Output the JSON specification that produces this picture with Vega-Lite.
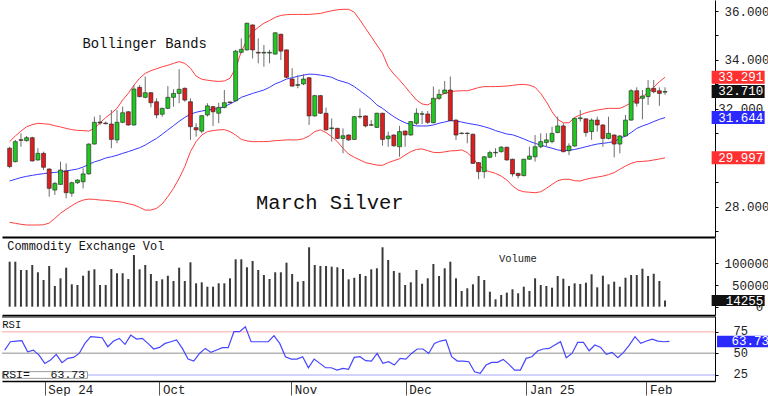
{
"$schema": "https://vega.github.io/schema/vega-lite/v6.json",
"usermeta": {"embedOptions": {"actions": false}},
"padding": 0,
"background": "white",
"spacing": 1,
"bounds": "flush",
"config": {"view": {"stroke": null}, "axis": {"grid": false, "labelFont": "Liberation Mono", "labelFontSize": 12.5, "labelColor": "#222", "labelOverlap": false, "zindex": 0}, "text": {"font": "Liberation Mono"}},
"datasets": {
"d": [
{"i":0,"o":30.39,"h":30.45,"l":29.57,"c":29.64,"u":30.66,"m":29.05,"lb":27.36,"v":103700,"r":53.8},
{"i":1,"o":29.84,"h":30.73,"l":29.81,"c":30.66,"u":30.89,"m":29.12,"lb":27.32,"v":103700,"r":63.4},
{"i":2,"o":30.74,"h":31.00,"l":30.45,"c":30.71,"u":31.09,"m":29.19,"lb":27.28,"v":84600,"r":64.2},
{"i":3,"o":30.70,"h":30.89,"l":30.66,"c":30.82,"u":31.27,"m":29.24,"lb":27.25,"v":84600,"r":64.6},
{"i":4,"o":30.82,"h":30.86,"l":29.84,"c":29.87,"u":31.35,"m":29.28,"lb":27.25,"v":96100,"r":51.9},
{"i":5,"o":29.91,"h":30.39,"l":29.88,"c":30.18,"u":31.41,"m":29.32,"lb":27.25,"v":79300,"r":53.8},
{"i":6,"o":30.18,"h":30.25,"l":29.50,"c":29.61,"u":31.39,"m":29.35,"lb":27.26,"v":61500,"r":48.0},
{"i":7,"o":29.54,"h":29.57,"l":28.41,"c":28.75,"u":31.37,"m":29.38,"lb":27.33,"v":93800,"r":38.4},
{"i":8,"o":28.68,"h":29.02,"l":28.48,"c":28.95,"u":31.31,"m":29.40,"lb":27.52,"v":47700,"r":42.3},
{"i":9,"o":28.91,"h":29.84,"l":28.89,"c":29.50,"u":31.26,"m":29.43,"lb":27.73,"v":65400,"r":48.8},
{"i":10,"o":29.46,"h":29.77,"l":28.34,"c":28.57,"u":31.20,"m":29.46,"lb":27.89,"v":89900,"r":39.2},
{"i":11,"o":28.55,"h":29.02,"l":28.41,"c":28.98,"u":31.15,"m":29.50,"lb":28.04,"v":51600,"r":44.2},
{"i":12,"o":28.98,"h":29.12,"l":28.93,"c":29.09,"u":31.12,"m":29.54,"lb":28.18,"v":50000,"r":45.3},
{"i":13,"o":29.02,"h":29.57,"l":28.75,"c":29.34,"u":31.11,"m":29.62,"lb":28.27,"v":71400,"r":49.9},
{"i":14,"o":29.34,"h":30.59,"l":29.31,"c":30.56,"u":31.09,"m":29.73,"lb":28.31,"v":82900,"r":61.5},
{"i":15,"o":30.56,"h":31.68,"l":30.54,"c":31.45,"u":31.20,"m":29.83,"lb":28.30,"v":86200,"r":69.2},
{"i":16,"o":31.46,"h":31.75,"l":31.34,"c":31.42,"u":31.43,"m":29.90,"lb":28.27,"v":50000,"r":68.8},
{"i":17,"o":31.42,"h":31.48,"l":31.37,"c":31.39,"u":31.64,"m":29.99,"lb":28.26,"v":50000,"r":68.0},
{"i":18,"o":31.38,"h":31.95,"l":30.39,"c":30.75,"u":31.82,"m":30.04,"lb":28.23,"v":86900,"r":57.7},
{"i":19,"o":30.73,"h":31.95,"l":30.59,"c":31.45,"u":32.02,"m":30.10,"lb":28.21,"v":77000,"r":64.2},
{"i":20,"o":31.45,"h":32.09,"l":31.41,"c":31.84,"u":32.36,"m":30.18,"lb":28.18,"v":77000,"r":67.3},
{"i":21,"o":31.88,"h":31.91,"l":31.31,"c":31.34,"u":32.63,"m":30.25,"lb":28.12,"v":63800,"r":60.4},
{"i":22,"o":31.34,"h":32.97,"l":31.31,"c":32.81,"u":32.97,"m":30.33,"lb":28.07,"v":119100,"r":71.1},
{"i":23,"o":32.88,"h":32.97,"l":32.47,"c":32.50,"u":33.25,"m":30.41,"lb":27.97,"v":86200,"r":66.5},
{"i":24,"o":32.47,"h":33.32,"l":32.43,"c":32.66,"u":33.45,"m":30.52,"lb":27.86,"v":96100,"r":67.3},
{"i":25,"o":32.66,"h":32.69,"l":32.06,"c":32.25,"u":33.56,"m":30.66,"lb":27.86,"v":75300,"r":61.5},
{"i":26,"o":32.29,"h":32.43,"l":31.61,"c":31.75,"u":33.64,"m":30.79,"lb":27.93,"v":59200,"r":55.0},
{"i":27,"o":31.78,"h":32.05,"l":31.68,"c":32.02,"u":33.72,"m":30.96,"lb":28.11,"v":63100,"r":56.9},
{"i":28,"o":32.02,"h":32.93,"l":31.99,"c":32.47,"u":33.78,"m":31.14,"lb":28.41,"v":71400,"r":61.5},
{"i":29,"o":32.47,"h":32.80,"l":32.09,"c":32.63,"u":33.86,"m":31.31,"lb":28.75,"v":59200,"r":63.4},
{"i":30,"o":32.63,"h":33.62,"l":32.23,"c":32.80,"u":33.93,"m":31.49,"lb":29.16,"v":89900,"r":65.4},
{"i":31,"o":32.84,"h":32.87,"l":32.29,"c":32.36,"u":33.86,"m":31.65,"lb":29.64,"v":59200,"r":55.7},
{"i":32,"o":32.29,"h":32.43,"l":30.73,"c":31.27,"u":33.66,"m":31.78,"lb":30.25,"v":102300,"r":43.4},
{"i":33,"o":31.23,"h":31.41,"l":30.86,"c":31.14,"u":33.34,"m":31.86,"lb":30.66,"v":53900,"r":41.1},
{"i":34,"o":31.09,"h":31.75,"l":31.00,"c":31.72,"u":33.21,"m":31.91,"lb":30.93,"v":56200,"r":49.9},
{"i":35,"o":31.75,"h":32.23,"l":31.68,"c":32.12,"u":33.17,"m":31.95,"lb":31.07,"v":46100,"r":55.7},
{"i":36,"o":32.09,"h":32.12,"l":31.30,"c":31.88,"u":33.14,"m":31.98,"lb":31.11,"v":46100,"r":51.1},
{"i":37,"o":31.82,"h":32.25,"l":31.41,"c":32.06,"u":33.12,"m":32.02,"lb":31.14,"v":53900,"r":53.8},
{"i":38,"o":32.06,"h":32.77,"l":32.02,"c":32.25,"u":33.14,"m":32.09,"lb":31.15,"v":53900,"r":56.5},
{"i":39,"o":32.28,"h":32.31,"l":32.23,"c":32.25,"u":33.25,"m":32.20,"lb":31.07,"v":65400,"r":56.5},
{"i":40,"o":32.33,"h":34.41,"l":32.29,"c":34.36,"u":33.66,"m":32.32,"lb":30.93,"v":109200,"r":75.0},
{"i":41,"o":34.31,"h":34.88,"l":34.27,"c":34.43,"u":34.34,"m":32.47,"lb":30.75,"v":109200,"r":75.0},
{"i":42,"o":34.41,"h":35.52,"l":34.38,"c":35.50,"u":34.81,"m":32.55,"lb":30.69,"v":90800,"r":80.8},
{"i":43,"o":35.43,"h":35.45,"l":34.06,"c":34.41,"u":35.16,"m":32.63,"lb":30.66,"v":105300,"r":63.4},
{"i":44,"o":34.31,"h":34.88,"l":33.86,"c":34.28,"u":35.33,"m":32.70,"lb":30.66,"v":84600,"r":63.4},
{"i":45,"o":34.28,"h":34.61,"l":33.72,"c":34.31,"u":35.50,"m":32.77,"lb":30.66,"v":73000,"r":63.4},
{"i":46,"o":34.28,"h":34.41,"l":33.86,"c":34.31,"u":35.61,"m":32.88,"lb":30.67,"v":63800,"r":63.4},
{"i":47,"o":34.24,"h":35.13,"l":34.21,"c":35.11,"u":35.74,"m":33.02,"lb":30.70,"v":79300,"r":70.4},
{"i":48,"o":35.05,"h":35.07,"l":34.00,"c":34.36,"u":35.82,"m":33.11,"lb":30.71,"v":79300,"r":61.5},
{"i":49,"o":34.41,"h":34.43,"l":33.26,"c":33.29,"u":35.85,"m":33.22,"lb":30.73,"v":101400,"r":46.1},
{"i":50,"o":33.22,"h":33.66,"l":32.91,"c":32.93,"u":35.86,"m":33.27,"lb":30.73,"v":75300,"r":43.4},
{"i":51,"o":32.96,"h":33.38,"l":32.84,"c":32.99,"u":35.86,"m":33.33,"lb":30.73,"v":57600,"r":43.4},
{"i":52,"o":33.02,"h":33.42,"l":32.97,"c":33.22,"u":35.86,"m":33.38,"lb":30.78,"v":59200,"r":46.1},
{"i":53,"o":33.27,"h":33.30,"l":31.34,"c":31.71,"u":35.86,"m":33.42,"lb":30.89,"v":136900,"r":33.4},
{"i":54,"o":31.71,"h":32.57,"l":31.68,"c":32.54,"u":35.88,"m":33.41,"lb":31.07,"v":96100,"r":43.4},
{"i":55,"o":32.54,"h":32.57,"l":31.79,"c":31.82,"u":35.90,"m":33.38,"lb":31.14,"v":93800,"r":38.4},
{"i":56,"o":31.82,"h":32.05,"l":31.11,"c":31.14,"u":35.96,"m":33.34,"lb":31.03,"v":93800,"r":33.4},
{"i":57,"o":31.19,"h":31.61,"l":30.66,"c":31.22,"u":36.01,"m":33.29,"lb":30.86,"v":92200,"r":33.4},
{"i":58,"o":31.20,"h":31.23,"l":30.77,"c":30.79,"u":36.05,"m":33.18,"lb":30.66,"v":90800,"r":30.7},
{"i":59,"o":30.79,"h":31.20,"l":30.18,"c":30.90,"u":36.07,"m":33.11,"lb":30.39,"v":86900,"r":32.6},
{"i":60,"o":30.93,"h":30.96,"l":30.69,"c":30.73,"u":36.07,"m":33.04,"lb":30.15,"v":63100,"r":31.5},
{"i":61,"o":30.75,"h":31.71,"l":30.73,"c":31.68,"u":35.95,"m":32.91,"lb":30.02,"v":66800,"r":45.3},
{"i":62,"o":31.67,"h":32.02,"l":31.60,"c":31.69,"u":35.63,"m":32.74,"lb":29.91,"v":75300,"r":46.1},
{"i":63,"o":31.71,"h":31.73,"l":31.24,"c":31.30,"u":35.29,"m":32.57,"lb":29.80,"v":70700,"r":41.5},
{"i":64,"o":31.35,"h":31.54,"l":31.30,"c":31.33,"u":34.95,"m":32.39,"lb":29.75,"v":86200,"r":41.1},
{"i":65,"o":31.24,"h":31.84,"l":31.22,"c":31.82,"u":34.61,"m":32.16,"lb":29.70,"v":88500,"r":49.9},
{"i":66,"o":31.82,"h":31.84,"l":30.49,"c":30.75,"u":34.27,"m":32.02,"lb":29.69,"v":136900,"r":38.4},
{"i":67,"o":30.78,"h":31.07,"l":30.45,"c":30.89,"u":33.72,"m":31.84,"lb":29.80,"v":107600,"r":40.3},
{"i":68,"o":30.93,"h":30.96,"l":30.45,"c":30.49,"u":33.42,"m":31.68,"lb":29.88,"v":82300,"r":36.5},
{"i":69,"o":30.45,"h":31.30,"l":30.04,"c":31.07,"u":33.18,"m":31.54,"lb":29.96,"v":78300,"r":44.2},
{"i":70,"o":31.09,"h":31.12,"l":30.45,"c":30.93,"u":32.91,"m":31.43,"lb":30.11,"v":50000,"r":43.4},
{"i":71,"o":30.93,"h":31.50,"l":30.90,"c":31.48,"u":32.63,"m":31.35,"lb":30.25,"v":56200,"r":49.9},
{"i":72,"o":31.41,"h":32.02,"l":31.34,"c":31.82,"u":32.36,"m":31.30,"lb":30.34,"v":84600,"r":55.0},
{"i":73,"o":31.78,"h":31.91,"l":31.38,"c":31.80,"u":32.20,"m":31.30,"lb":30.36,"v":53000,"r":55.0},
{"i":74,"o":31.79,"h":31.91,"l":31.38,"c":31.45,"u":32.16,"m":31.30,"lb":30.29,"v":65400,"r":49.9},
{"i":75,"o":31.43,"h":32.91,"l":31.41,"c":32.43,"u":32.29,"m":31.34,"lb":30.22,"v":98400,"r":61.5},
{"i":76,"o":32.43,"h":32.80,"l":32.36,"c":32.59,"u":32.52,"m":31.41,"lb":30.21,"v":70700,"r":64.2},
{"i":77,"o":32.63,"h":33.14,"l":32.61,"c":32.77,"u":32.63,"m":31.46,"lb":30.24,"v":88500,"r":65.4},
{"i":78,"o":32.77,"h":33.32,"l":31.49,"c":31.52,"u":32.70,"m":31.52,"lb":30.28,"v":103700,"r":46.1},
{"i":79,"o":31.54,"h":31.57,"l":30.73,"c":30.93,"u":32.73,"m":31.50,"lb":30.29,"v":65400,"r":41.1},
{"i":80,"o":30.99,"h":31.04,"l":30.96,"c":31.01,"u":32.74,"m":31.46,"lb":30.32,"v":36200,"r":41.1},
{"i":81,"o":31.01,"h":31.03,"l":30.59,"c":30.99,"u":32.74,"m":31.41,"lb":30.21,"v":42400,"r":40.3},
{"i":82,"o":30.96,"h":30.99,"l":29.75,"c":29.77,"u":32.80,"m":31.37,"lb":29.98,"v":51600,"r":28.8},
{"i":83,"o":29.80,"h":29.83,"l":29.12,"c":29.43,"u":32.87,"m":31.33,"lb":29.70,"v":70700,"r":26.9},
{"i":84,"o":29.43,"h":30.07,"l":29.16,"c":30.04,"u":32.91,"m":31.27,"lb":29.50,"v":61500,"r":36.5},
{"i":85,"o":30.02,"h":30.29,"l":29.98,"c":30.21,"u":32.91,"m":31.20,"lb":29.43,"v":34600,"r":39.6},
{"i":86,"o":30.20,"h":30.39,"l":30.04,"c":30.22,"u":32.91,"m":31.11,"lb":29.36,"v":17000,"r":39.6},
{"i":87,"o":30.25,"h":30.48,"l":30.21,"c":30.43,"u":32.92,"m":31.04,"lb":29.25,"v":27000,"r":43.0},
{"i":88,"o":30.43,"h":30.45,"l":29.88,"c":29.91,"u":32.93,"m":30.97,"lb":29.09,"v":32300,"r":37.3},
{"i":89,"o":29.94,"h":29.96,"l":29.23,"c":29.34,"u":32.96,"m":30.94,"lb":28.85,"v":40100,"r":30.7},
{"i":90,"o":29.36,"h":29.39,"l":29.16,"c":29.27,"u":32.99,"m":30.86,"lb":28.68,"v":30900,"r":30.7},
{"i":91,"o":29.27,"h":29.96,"l":29.24,"c":29.94,"u":33.00,"m":30.77,"lb":28.61,"v":46100,"r":44.2},
{"i":92,"o":29.94,"h":30.45,"l":29.91,"c":30.07,"u":32.97,"m":30.67,"lb":28.59,"v":36200,"r":46.1},
{"i":93,"o":30.04,"h":30.93,"l":29.84,"c":30.45,"u":32.88,"m":30.59,"lb":28.57,"v":65400,"r":52.7},
{"i":94,"o":30.45,"h":31.00,"l":30.39,"c":30.66,"u":32.63,"m":30.52,"lb":28.61,"v":50000,"r":55.0},
{"i":95,"o":30.62,"h":31.00,"l":30.45,"c":30.73,"u":32.29,"m":30.45,"lb":28.75,"v":47700,"r":55.7},
{"i":96,"o":30.66,"h":31.27,"l":30.59,"c":31.00,"u":31.88,"m":30.39,"lb":28.91,"v":43800,"r":59.6},
{"i":97,"o":31.03,"h":31.68,"l":31.00,"c":31.30,"u":31.57,"m":30.32,"lb":29.06,"v":70700,"r":63.4},
{"i":98,"o":31.30,"h":31.41,"l":30.22,"c":30.25,"u":31.43,"m":30.29,"lb":29.12,"v":64500,"r":44.9},
{"i":99,"o":30.29,"h":30.59,"l":30.11,"c":30.48,"u":31.43,"m":30.30,"lb":29.12,"v":47700,"r":49.9},
{"i":100,"o":30.48,"h":31.64,"l":30.45,"c":31.61,"u":31.65,"m":30.34,"lb":29.06,"v":53900,"r":62.7},
{"i":101,"o":31.60,"h":31.95,"l":31.48,"c":31.63,"u":31.75,"m":30.39,"lb":29.05,"v":52300,"r":62.7},
{"i":102,"o":31.59,"h":31.61,"l":30.86,"c":31.03,"u":31.84,"m":30.45,"lb":29.12,"v":55300,"r":53.0},
{"i":103,"o":31.07,"h":31.61,"l":30.73,"c":31.54,"u":31.90,"m":30.51,"lb":29.17,"v":74600,"r":59.6},
{"i":104,"o":31.54,"h":31.68,"l":31.07,"c":31.34,"u":31.95,"m":30.56,"lb":29.21,"v":44700,"r":56.9},
{"i":105,"o":31.34,"h":31.37,"l":30.45,"c":30.79,"u":31.99,"m":30.59,"lb":29.25,"v":71400,"r":48.8},
{"i":106,"o":30.79,"h":31.68,"l":30.75,"c":31.00,"u":32.02,"m":30.62,"lb":29.31,"v":51600,"r":51.1},
{"i":107,"o":30.93,"h":30.96,"l":30.02,"c":30.56,"u":32.02,"m":30.66,"lb":29.39,"v":57600,"r":44.9},
{"i":108,"o":30.56,"h":30.93,"l":30.18,"c":30.89,"u":32.02,"m":30.79,"lb":29.53,"v":46100,"r":51.1},
{"i":109,"o":30.89,"h":31.75,"l":30.86,"c":31.54,"u":32.12,"m":30.89,"lb":29.66,"v":66800,"r":59.6},
{"i":110,"o":31.54,"h":32.80,"l":31.52,"c":32.74,"u":32.25,"m":31.03,"lb":29.77,"v":73000,"r":69.2},
{"i":111,"o":32.74,"h":32.88,"l":32.09,"c":32.23,"u":32.36,"m":31.20,"lb":29.84,"v":73000,"r":61.5},
{"i":112,"o":32.43,"h":32.77,"l":31.57,"c":32.52,"u":32.50,"m":31.30,"lb":29.85,"v":87600,"r":64.2},
{"i":113,"o":32.50,"h":33.18,"l":32.16,"c":32.84,"u":32.66,"m":31.38,"lb":29.87,"v":70700,"r":66.5},
{"i":114,"o":32.84,"h":33.18,"l":32.63,"c":32.70,"u":32.88,"m":31.48,"lb":29.91,"v":76000,"r":64.2},
{"i":115,"o":32.74,"h":32.88,"l":32.12,"c":32.63,"u":33.11,"m":31.57,"lb":29.95,"v":59200,"r":63.4},
{"i":116,"o":32.68,"h":32.88,"l":32.57,"c":32.71,"u":33.291,"m":31.644,"lb":29.997,"v":14255,"r":63.73}
],
"pbox": [
{"v":33.291,"t":"33.291","k":"upper"},
{"v":32.710,"t":"32.710","k":"last"},
{"v":31.644,"t":"31.644","k":"mid"},
{"v":29.997,"t":"29.997","k":"lower"}
],
"one": [{}]
},
"vconcat": [
{
"width": 713, "height": 237,
"data": {"name": "d"},
"layer": [
{"mark": {"type": "line", "color": "#ff4040", "strokeWidth": 1},
 "encoding": {
  "x": {"field": "i", "type": "quantitative", "scale": {"domain": [-0.47, 123.96], "nice": false, "zero": false},
        "axis": {"orient": "bottom", "labels": false, "ticks": false, "domainColor": "#000", "domainWidth": 2, "title": null}},
  "y": {"field": "u", "type": "quantitative", "scale": {"domain": [26.76, 36.45], "nice": false, "zero": false},
        "axis": {"orient": "right", "values": [27,28,29,30,31,32,33,34,35,36], "tickCount": 50, "labelExpr": "(datum.value == 28 || datum.value == 34 || datum.value == 36) ? format(datum.value, '.3f') : ''", "labelOverlap": false, "tickSize": 3, "tickColor": "#000", "domainColor": "#000", "labelAlign": "right", "labelPadding": 51, "title": null, "zindex": 0}}
 }},
{"mark": {"type": "line", "color": "#ff4040", "strokeWidth": 1},
 "encoding": {
  "x": {"field": "i", "type": "quantitative", "scale": {"domain": [-0.47, 123.96], "nice": false, "zero": false}},
  "y": {"field": "lb", "type": "quantitative", "scale": {"domain": [26.76, 36.45], "nice": false, "zero": false}}
 }},
{"mark": {"type": "line", "color": "#3838ff", "strokeWidth": 1},
 "encoding": {
  "x": {"field": "i", "type": "quantitative", "scale": {"domain": [-0.47, 123.96], "nice": false, "zero": false}},
  "y": {"field": "m", "type": "quantitative", "scale": {"domain": [26.76, 36.45], "nice": false, "zero": false}}
 }},
{"mark": {"type": "rule", "color": "#6e6e6e", "strokeWidth": 1},
 "encoding": {
  "x": {"field": "i", "type": "quantitative", "scale": {"domain": [-0.47, 123.96], "nice": false, "zero": false}},
  "y": {"field": "l", "type": "quantitative", "scale": {"domain": [26.76, 36.45], "nice": false, "zero": false}},
  "y2": {"field": "h"}
 }},
{"mark": {"type": "bar", "width": 4, "stroke": "#222", "strokeWidth": 0.6},
 "encoding": {
  "x": {"field": "i", "type": "quantitative", "scale": {"domain": [-0.47, 123.96], "nice": false, "zero": false}},
  "y": {"field": "o", "type": "quantitative", "scale": {"domain": [26.76, 36.45], "nice": false, "zero": false}},
  "y2": {"field": "c"},
  "color": {"condition": {"test": "datum.c >= datum.o", "value": "#22c822"}, "value": "#dc1e1e"}
 }},
{"data": {"name": "one"},
 "mark": {"type": "text", "text": "Bollinger Bands", "align": "left", "baseline": "alphabetic", "fontSize": 13.8, "color": "#111"},
 "encoding": {
  "x": {"datum": 12.9, "type": "quantitative", "scale": {"domain": [-0.47, 123.96], "nice": false, "zero": false}},
  "y": {"datum": 34.49, "type": "quantitative", "scale": {"domain": [26.76, 36.45], "nice": false, "zero": false}}
 }},
{"data": {"name": "one"},
 "mark": {"type": "text", "text": "March Silver", "align": "left", "baseline": "alphabetic", "fontSize": 20.5, "color": "#111"},
 "encoding": {
  "x": {"datum": 43.6, "type": "quantitative", "scale": {"domain": [-0.47, 123.96], "nice": false, "zero": false}},
  "y": {"datum": 27.905, "type": "quantitative", "scale": {"domain": [26.76, 36.45], "nice": false, "zero": false}}
 }},
{"data": {"name": "one"},
 "mark": {"type": "text", "text": "32.000", "align": "right", "baseline": "middle", "fontSize": 12.5, "color": "#222"},
 "encoding": {
  "x": {"datum": 133.4, "type": "quantitative", "scale": {"domain": [-0.47, 123.96], "nice": false, "zero": false}},
  "y": {"datum": 32, "type": "quantitative", "scale": {"domain": [26.76, 36.45], "nice": false, "zero": false}}
 }},
{"data": {"name": "pbox"},
 "mark": {"type": "point", "shape": "M-1,-0.245L1,-0.245L1,0.245L-1,0.245Z", "filled": true, "size": 2809, "opacity": 1, "strokeWidth": 0},
 "encoding": {
  "x": {"datum": 128.94, "type": "quantitative", "scale": {"domain": [-0.47, 123.96], "nice": false, "zero": false}},
  "y": {"field": "v", "type": "quantitative", "scale": {"domain": [26.76, 36.45], "nice": false, "zero": false}},
  "color": {"field": "k", "type": "nominal", "scale": {"domain": ["upper","last","mid","lower"], "range": ["#ff3030","#111111","#2a2aff","#ff3030"]}, "legend": null}
 }},
{"data": {"name": "pbox"},
 "mark": {"type": "text", "align": "right", "baseline": "middle", "fontSize": 12.5, "color": "#ffffff"},
 "encoding": {
  "x": {"datum": 133.4, "type": "quantitative", "scale": {"domain": [-0.47, 123.96], "nice": false, "zero": false}},
  "y": {"field": "v", "type": "quantitative", "scale": {"domain": [26.76, 36.45], "nice": false, "zero": false}},
  "text": {"field": "t"}
 }}
]
},
{
"width": 713, "height": 77,
"data": {"name": "d"},
"layer": [
{"mark": {"type": "bar", "width": 2, "color": "#3a3a3a"},
 "encoding": {
  "x": {"field": "i", "type": "quantitative", "scale": {"domain": [-0.47, 123.96], "nice": false, "zero": false},
        "axis": {"orient": "bottom", "labels": false, "ticks": false, "domainColor": "#000", "domainWidth": 1.5, "title": null}},
  "y": {"field": "v", "type": "quantitative", "scale": {"domain": [-19100, 158300], "nice": false, "zero": false},
        "axis": {"orient": "right", "values": [0, 50000, 100000], "tickCount": 50, "labelExpr": "datum.value == 0 ? '' : format(datum.value, 'd')", "labelOverlap": false, "tickSize": 3, "tickColor": "#000", "domainColor": "#000", "labelAlign": "right", "labelPadding": 51, "title": null, "zindex": 0}}
 }},
{"data": {"name": "one"},
 "mark": {"type": "text", "text": "Commodity Exchange Vol", "align": "left", "baseline": "alphabetic", "fontSize": 11.9, "color": "#111"},
 "encoding": {
  "x": {"datum": -0.42, "type": "quantitative", "scale": {"domain": [-0.47, 123.96], "nice": false, "zero": false}},
  "y": {"datum": 130650, "type": "quantitative", "scale": {"domain": [-19100, 158300], "nice": false, "zero": false}}
 }},
{"data": {"name": "one"},
 "mark": {"type": "text", "text": "Volume", "align": "left", "baseline": "alphabetic", "fontSize": 10.5, "color": "#222"},
 "encoding": {
  "x": {"datum": 86.6, "type": "quantitative", "scale": {"domain": [-0.47, 123.96], "nice": false, "zero": false}},
  "y": {"datum": 102300, "type": "quantitative", "scale": {"domain": [-19100, 158300], "nice": false, "zero": false}}
 }},
{"data": {"name": "one"},
 "mark": {"type": "text", "text": "0", "align": "right", "baseline": "middle", "fontSize": 12.5, "color": "#222"},
 "encoding": {
  "x": {"datum": 133.4, "type": "quantitative", "scale": {"domain": [-0.47, 123.96], "nice": false, "zero": false}},
  "y": {"datum": 0, "type": "quantitative", "scale": {"domain": [-19100, 158300], "nice": false, "zero": false}}
 }},
{"data": {"name": "one"},
 "mark": {"type": "point", "shape": "M-1,-0.208L1,-0.208L1,0.208L-1,0.208Z", "filled": true, "size": 2809, "opacity": 1, "strokeWidth": 0, "color": "#111111"},
 "encoding": {
  "x": {"datum": 128.94, "type": "quantitative", "scale": {"domain": [-0.47, 123.96], "nice": false, "zero": false}},
  "y": {"datum": 14255, "type": "quantitative", "scale": {"domain": [-19100, 158300], "nice": false, "zero": false}}
 }},
{"data": {"name": "one"},
 "mark": {"type": "text", "text": "14255", "align": "right", "baseline": "middle", "fontSize": 12.5, "color": "#ffffff"},
 "encoding": {
  "x": {"datum": 133.4, "type": "quantitative", "scale": {"domain": [-0.47, 123.96], "nice": false, "zero": false}},
  "y": {"datum": 14255, "type": "quantitative", "scale": {"domain": [-19100, 158300], "nice": false, "zero": false}}
 }}
]
},
{
"width": 713, "height": 65,
"layer": [
{"data": {"name": "one"},
 "mark": {"type": "rule", "color": "#ffc4c4", "strokeWidth": 1.5},
 "encoding": {"y": {"datum": 75, "type": "quantitative", "scale": {"domain": [18.07, 93.13], "nice": false, "zero": false}}}},
{"data": {"name": "one"},
 "mark": {"type": "rule", "color": "#b4b4b4", "strokeWidth": 1.5},
 "encoding": {"y": {"datum": 50, "type": "quantitative", "scale": {"domain": [18.07, 93.13], "nice": false, "zero": false}}}},
{"data": {"name": "one"},
 "mark": {"type": "rule", "color": "#c4c4ff", "strokeWidth": 1.5},
 "encoding": {"y": {"datum": 25, "type": "quantitative", "scale": {"domain": [18.07, 93.13], "nice": false, "zero": false}}}},
{"data": {"name": "one"},
 "mark": {"type": "rule", "color": "#000000", "strokeWidth": 1.2},
 "encoding": {"y": {"datum": 91.97, "type": "quantitative", "scale": {"domain": [18.07, 93.13], "nice": false, "zero": false}}}},
{"data": {"name": "d"},
 "mark": {"type": "line", "color": "#4646ff", "strokeWidth": 1.2},
 "encoding": {
  "x": {"field": "i", "type": "quantitative", "scale": {"domain": [-0.47, 123.96], "nice": false, "zero": false},
        "axis": {"orient": "bottom", "values": [7, 27, 50, 70, 91, 112], "tickCount": 50,
                 "labelExpr": "datum.value == 7 ? 'Sep 24' : datum.value == 27 ? 'Oct' : datum.value == 50 ? 'Nov' : datum.value == 70 ? 'Dec' : datum.value == 91 ? 'Jan 25' : 'Feb'",
                 "tickSize": 14, "tickColor": "#555", "tickWidth": 1, "labelAlign": "left", "labelBaseline": "top", "labelPadding": -12, "labelOffset": 3,
                 "labelFlush": false, "labelOverlap": false, "labelBound": false, "domainColor": "#000", "domainWidth": 1.5, "title": null}},
  "y": {"field": "r", "type": "quantitative", "scale": {"domain": [18.07, 93.13], "nice": false, "zero": false},
        "axis": {"orient": "right", "values": [25, 50, 75], "tickCount": 50, "labelOverlap": false, "labelOffset": -1, "labelFontSize": 12, "tickSize": 3, "tickColor": "#000", "domainColor": "#000", "labelAlign": "left", "labelPadding": 15, "title": null, "zindex": 0}}
 }},
{"data": {"name": "one"},
 "mark": {"type": "text", "text": "RSI", "align": "left", "baseline": "alphabetic", "fontSize": 10.5, "color": "#111"},
 "encoding": {
  "x": {"datum": -0.42, "type": "quantitative", "scale": {"domain": [-0.47, 123.96], "nice": false, "zero": false}},
  "y": {"datum": 78.93, "type": "quantitative", "scale": {"domain": [18.07, 93.13], "nice": false, "zero": false}}
 }},
{"data": {"name": "one"},
 "mark": {"type": "point", "shape": "M-1,-0.079L1,-0.079L1,0.079L-1,0.079Z", "filled": false, "size": 7225, "opacity": 1, "fill": "#ffffff", "fillOpacity": 1, "stroke": "#9a9a9a", "strokeWidth": 1},
 "encoding": {
  "x": {"datum": 7.03, "type": "quantitative", "scale": {"domain": [-0.47, 123.96], "nice": false, "zero": false}},
  "y": {"datum": 25.0, "type": "quantitative", "scale": {"domain": [18.07, 93.13], "nice": false, "zero": false}}
 }},
{"data": {"name": "one"},
 "mark": {"type": "text", "text": "RSI=\u00a0\u00a0\u00a063.73", "align": "left", "baseline": "alphabetic", "fontSize": 11.5, "color": "#111"},
 "encoding": {
  "x": {"datum": -0.42, "type": "quantitative", "scale": {"domain": [-0.47, 123.96], "nice": false, "zero": false}},
  "y": {"datum": 21.19, "type": "quantitative", "scale": {"domain": [18.07, 93.13], "nice": false, "zero": false}}
 }},
{"data": {"name": "one"},
 "mark": {"type": "point", "shape": "M-1,-0.22L1,-0.22L1,0.22L-1,0.22Z", "filled": true, "size": 2809, "opacity": 1, "strokeWidth": 0, "color": "#2a2aff"},
 "encoding": {
  "x": {"datum": 128.94, "type": "quantitative", "scale": {"domain": [-0.47, 123.96], "nice": false, "zero": false}},
  "y": {"datum": 63.73, "type": "quantitative", "scale": {"domain": [18.07, 93.13], "nice": false, "zero": false}}
 }},
{"data": {"name": "one"},
 "mark": {"type": "text", "text": "63.73", "align": "right", "baseline": "middle", "fontSize": 12.5, "color": "#ffffff"},
 "encoding": {
  "x": {"datum": 133.4, "type": "quantitative", "scale": {"domain": [-0.47, 123.96], "nice": false, "zero": false}},
  "y": {"datum": 63.73, "type": "quantitative", "scale": {"domain": [18.07, 93.13], "nice": false, "zero": false}}
 }}
]
}
]
}
